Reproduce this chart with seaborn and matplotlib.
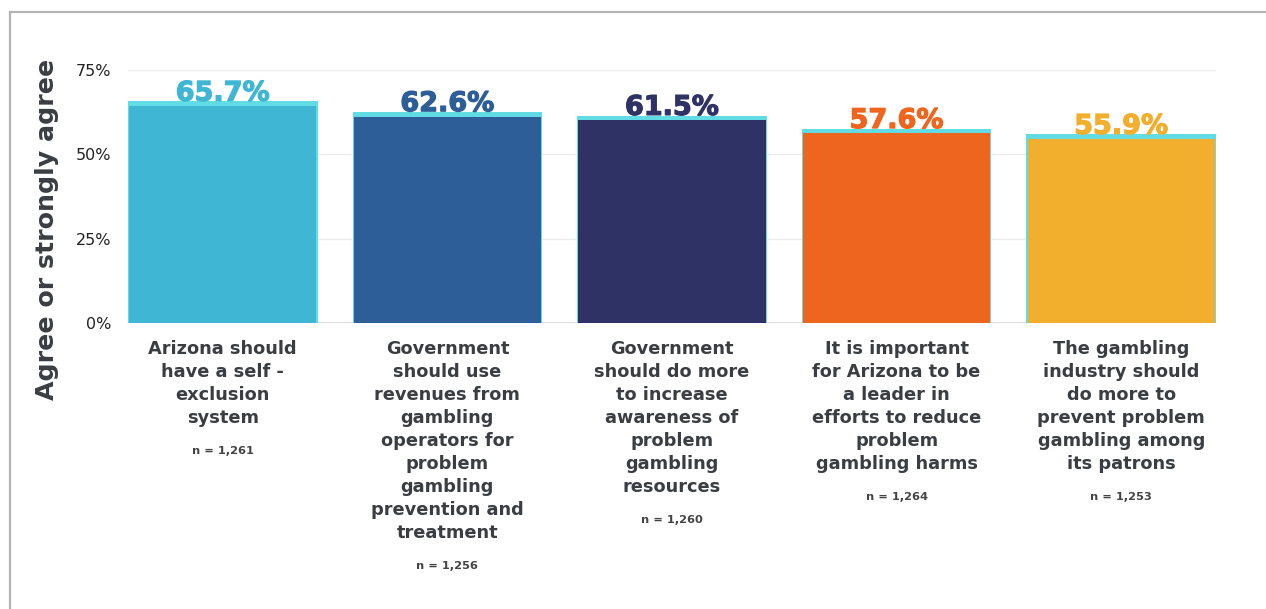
import matplotlib
matplotlib.use("Agg")
import matplotlib.pyplot as plt
import matplotlib.patheffects as pe
from matplotlib.lines import Line2D
import seaborn as sns

# Survey statements, share who agree or strongly agree, and sample sizes
statements = [
    "Arizona should\nhave a self -\nexclusion\nsystem",
    "Government\nshould use\nrevenues from\ngambling\noperators for\nproblem\ngambling\nprevention and\ntreatment",
    "Government\nshould do more\nto increase\nawareness of\nproblem\ngambling\nresources",
    "It is important\nfor Arizona to be\na leader in\nefforts to reduce\nproblem\ngambling harms",
    "The gambling\nindustry should\ndo more to\nprevent problem\ngambling among\nits patrons",
]
agree_pct = [65.7, 62.6, 61.5, 57.6, 55.9]
sample_n = ["n = 1,261", "n = 1,256", "n = 1,260", "n = 1,264", "n = 1,253"]
y_ticks = [0, 25, 50, 75]
y_tick_labels = ["0%", "25%", "50%", "75%"]

bar_colors = ["#3FB6D3", "#2D5E97", "#2E3265", "#EE661E", "#F2AF2E"]
cap_color = "#62DCE4"
text_dark = "#3A3D42"

sns.set_theme(style="white")
plt.rcParams["font.family"] = ["DejaVu Sans"]

W, H = 1266, 609
fig = plt.figure(figsize=(W / 100, H / 100), dpi=100)
fig.patch.set_facecolor("white")
ax = fig.add_axes([128 / W, 1 - 323 / H, (1216 - 128) / W, (323 - 70) / H])

x_keys = [f"s{i}" for i in range(len(statements))]
bar_w = 0.844
cap = 1.4  # height of the light cyan band on top of each bar

# full-height bars in cyan form the top band and the thin side rim
sns.barplot(x=x_keys, y=agree_pct, color=cap_color, width=bar_w,
            saturation=1, ax=ax, zorder=2)
# coloured body sits just below the band
body = [v - cap for v in agree_pct]
sns.barplot(x=x_keys, y=body, hue=x_keys, palette=bar_colors, width=bar_w - 0.01,
            saturation=1, legend=False, ax=ax, zorder=3)
for p in ax.patches:
    p.set_linewidth(0)

ax.set_xlim(-bar_w / 2, len(statements) - 1 + bar_w / 2)
ax.set_ylim(0, 75)
ax.set_yticks(y_ticks)
ax.set_yticklabels(y_tick_labels, fontsize=11.5, color="#222222")
ax.tick_params(axis="y", length=0, pad=12)
ax.tick_params(axis="x", length=0, pad=12)

for y in y_ticks[1:]:
    ax.axhline(y, color="#ECECEC", lw=1, zorder=0)
ax.axhline(0, color="#DADADA", lw=1.2, zorder=1)
for s in ax.spines.values():
    s.set_visible(False)

# value labels in the bar colour, thickened slightly with a matching stroke
for i, (v, c) in enumerate(zip(agree_pct, bar_colors)):
    ax.text(i, v + 0.2, f"{v}%", ha="center", va="baseline", fontsize=19.5,
            fontweight="bold", color=c, zorder=4, clip_on=False,
            path_effects=[pe.withStroke(linewidth=0.9, foreground=c)])

ax.set_xticks(range(len(statements)))
ax.set_xticklabels(statements, fontsize=12.8, fontweight="bold", color=text_dark,
                   linespacing=1.36, va="top", ha="center")
ax.set_xlabel("")
ax.set_ylabel("")

fig.canvas.draw()
for lab, n in zip(ax.get_xticklabels(), sample_n):
    ax.annotate(n, xy=(0.5, 0), xycoords=lab, xytext=(0, -19),
                textcoords="offset pixels", ha="center", va="top",
                fontsize=8.2, fontweight="bold", color="#444444")

fig.text(47 / W, 1 - 229 / H, "Agree or strongly agree", rotation=90,
         ha="center", va="center", fontsize=18.2, fontweight="bold", color=text_dark)

# grey frame on the top and left edges
frame = "#B3B3B3"
fig.add_artist(Line2D([10 / W, 1], [1 - 12 / H, 1 - 12 / H], color=frame, lw=1.6,
                      transform=fig.transFigure))
fig.add_artist(Line2D([10 / W, 10 / W], [0, 1 - 12 / H], color=frame, lw=1.6,
                      transform=fig.transFigure))

fig.savefig("out.png", dpi=100, facecolor="white")
